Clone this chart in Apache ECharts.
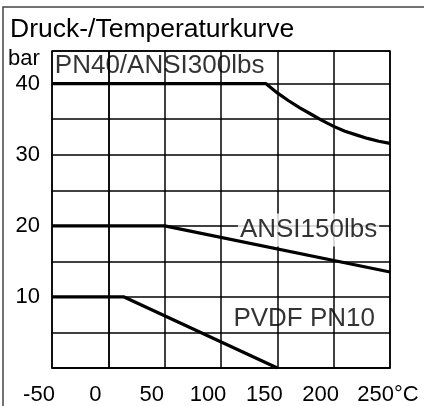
<!DOCTYPE html>
<html>
<head>
<meta charset="utf-8">
<script src="https://cdn.jsdelivr.net/npm/echarts@6/dist/echarts.min.js"></script>
<style>
  html, body { margin: 0; background: #fff; }
  #chart { width: 424px; height: 406px; }
</style>
</head>
<body>
<div id="chart"></div>
<script>
// temperature ticks (°C) and pressure labels (bar)
const tempTicks = [-50, 0, 50, 100, 150, 200, 250];
const barLabels = [10, 20, 30, 40];

// pressure / temperature curves [°C, bar]
const pn40 = [[-50, 40], [140, 40], [150, 38.7], [160, 37.6], [170, 36.6], [180, 35.7], [190, 34.8],
  [200, 34.0], [210, 33.3], [220, 32.8], [230, 32.3], [240, 31.9], [250, 31.6]];
const ansi150 = [[-50, 20], [50, 20], [250, 13.5]];
const pvdf = [[-50, 10], [14, 10], [150, 0]];

// curve names and where they are written [°C, bar, text]
const curveNames = [
  [-47.5, 42.5, 'PN40/ANSI300lbs'],
  [115, 19.4, 'ANSI150lbs'],
  [111, 6.9, 'PVDF PN10']
];

const font = '"Liberation Sans", Arial, sans-serif';
const chart = echarts.init(document.getElementById('chart'));

const lineSeries = (data) => ({
  type: 'line',
  data: data,
  symbol: 'none',
  z: 3,
  lineStyle: { color: '#000', width: 3.2, join: 'round' }
});

const option = {
  animation: false,
  textStyle: { fontFamily: font },
  title: {
    text: 'Druck-/Temperaturkurve',
    left: 10,
    top: 16,
    padding: 0,
    textStyle: { fontSize: 26.5, fontWeight: 'normal', color: '#000', fontFamily: font }
  },
  graphic: [
    {
      type: 'polyline',
      shape: { points: [[3, 406], [3, 7], [424, 7]] },
      style: { stroke: '#444', lineWidth: 1.5, fill: null }
    },
    {
      type: 'text',
      left: 8,
      top: 48,
      style: { text: 'bar', fontSize: 22, fill: '#000', fontFamily: font }
    }
  ],
  grid: {
    left: 52, top: 51, right: 34, bottom: 34,
    show: true, borderColor: '#000', borderWidth: 1.5
  },
  xAxis: {
    type: 'value',
    min: tempTicks[0],
    max: tempTicks[tempTicks.length - 1],
    interval: 50,
    axisLine: { show: true, lineStyle: { color: '#000', width: 1.5 } },
    axisTick: { show: false },
    splitLine: { show: true, lineStyle: { color: '#000', width: 1.5 } },
    axisLabel: {
      margin: 16,
      color: '#000',
      fontSize: 22,
      formatter: v => v === 250 ? '{u|250°C}' : '{n|' + v + '}',
      rich: {
        n: { fontSize: 22, color: '#000', padding: [0, 26, 0, 0] },
        u: { fontSize: 22, color: '#000', padding: [0, 4, 0, 0] }
      }
    }
  },
  yAxis: {
    type: 'value',
    min: 0,
    max: 44.6,
    interval: 5,
    axisLine: { show: true, lineStyle: { color: '#000', width: 1.5 } },
    axisTick: { show: false },
    splitLine: { show: true, lineStyle: { color: '#000', width: 1.5 } },
    axisLabel: {
      margin: 12,
      color: '#000',
      fontSize: 22,
      formatter: v => barLabels.includes(v) ? String(v) : ''
    }
  },
  series: [
    lineSeries(pn40),
    lineSeries(ansi150),
    lineSeries(pvdf),
    {
      type: 'scatter',
      z: 1,
      symbolSize: 0,
      silent: true,
      data: curveNames.map((c, i) => ({
        value: c,
        label: i === 1 ? { backgroundColor: '#fff', padding: [4, 2, 3, 2] } : {}
      })),
      label: {
        show: true,
        position: 'inside',
        align: 'left',
        verticalAlign: 'middle',
        formatter: p => p.value[2],
        fontSize: 26,
        color: '#000',
        fontFamily: font
      }
    }
  ]
};

chart.setOption(option);
</script>
</body>
</html>
